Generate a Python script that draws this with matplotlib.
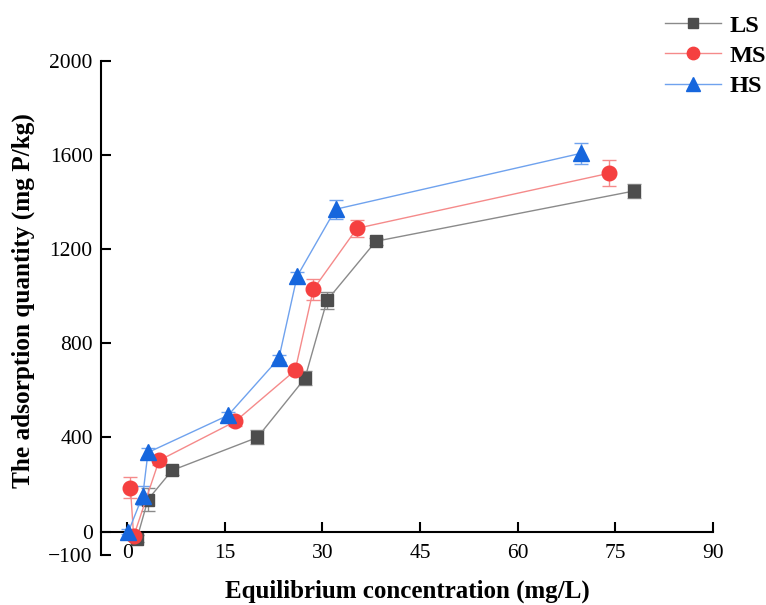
import matplotlib
matplotlib.use("Agg")
import matplotlib.pyplot as plt

plt.rcParams['font.family'] = ['Liberation Serif', 'DejaVu Serif']

ls_x = [1.5, 3.2, 6.9, 20.0, 27.3, 30.7, 38.2, 77.9]
ls_y = [-30, 136, 260, 400, 651, 983, 1234, 1448]
ls_err = [15, 47, 20, 30, 30, 35, 15, 30]

ms_x = [0.5, 1.0, 4.9, 16.6, 25.8, 28.6, 35.3, 74.0]
ms_y = [187, -20, 302, 468, 685, 1030, 1289, 1523]
ms_err = [45, 15, 20, 20, 15, 45, 35, 55]

hs_x = [0.2, 2.4, 3.2, 15.5, 23.3, 26.1, 32.0, 69.7]
hs_y = [0, 153, 336, 494, 736, 1085, 1370, 1608]
hs_err = [10, 40, 20, 15, 15, 20, 40, 45]

x_ticks = [0, 15, 30, 45, 60, 75, 90]
y_ticks = [-100, 0, 400, 800, 1200, 1600, 2000]

fig = plt.figure(figsize=(7.66, 6.05), dpi=100)
ax = fig.add_axes([0.132, 0.0826, 0.799, 0.8164])

series = [
    ("LS", ls_x, ls_y, ls_err, 's', '#4d4d4d', '#8a8a8a', 9),
    ("MS", ms_x, ms_y, ms_err, 'o', '#f54040', '#f58a8a', 10.5),
    ("HS", hs_x, hs_y, hs_err, '^', '#1666dd', '#6fa2ee', 11.5),
]
for name, x, y, e, m, c, lc, ms in series:
    ax.errorbar(x, y, yerr=e, fmt='none', ecolor=lc, elinewidth=1, capsize=5, capthick=1, zorder=2)
    ax.plot(x, y, color=lc, lw=1, marker=m, markersize=ms, markerfacecolor=c,
            markeredgecolor=c, label=name, zorder=3)

ax.set_xlim(-4, 90)
ax.set_ylim(-100, 2000)
ax.spines['top'].set_visible(False)
ax.spines['right'].set_visible(False)
ax.spines['bottom'].set_position(('data', 0))
for s in ['left', 'bottom']:
    ax.spines[s].set_linewidth(1.5)
ax.set_xticks(x_ticks)
ax.set_yticks(y_ticks)
ax.set_yticklabels(['\u2212100', '0', '400', '800', '1200', '1600', '2000'])
ax.tick_params(axis='both', direction='in', length=7, width=1.5, labelsize=15.5)
ax.tick_params(axis='x', pad=9)
ax.tick_params(axis='y', pad=6)

ax.set_xlabel('Equilibrium concentration (mg/L)', fontsize=18, fontweight='bold', labelpad=12)
ax.set_ylabel('The adsorption quantity (mg P/kg)', fontsize=18.2, fontweight='bold')
ax.yaxis.set_label_coords(-0.108, 0.516)

leg = fig.legend(loc='upper left', bbox_to_anchor=(0.868, 0.976), frameon=False,
                 prop={'weight': 'bold', 'size': 17.5}, handlelength=2.3,
                 labelspacing=0.34, handletextpad=0.35, markerscale=0.85,
                 borderpad=0, borderaxespad=0)

fig.savefig('out.png', dpi=100)
